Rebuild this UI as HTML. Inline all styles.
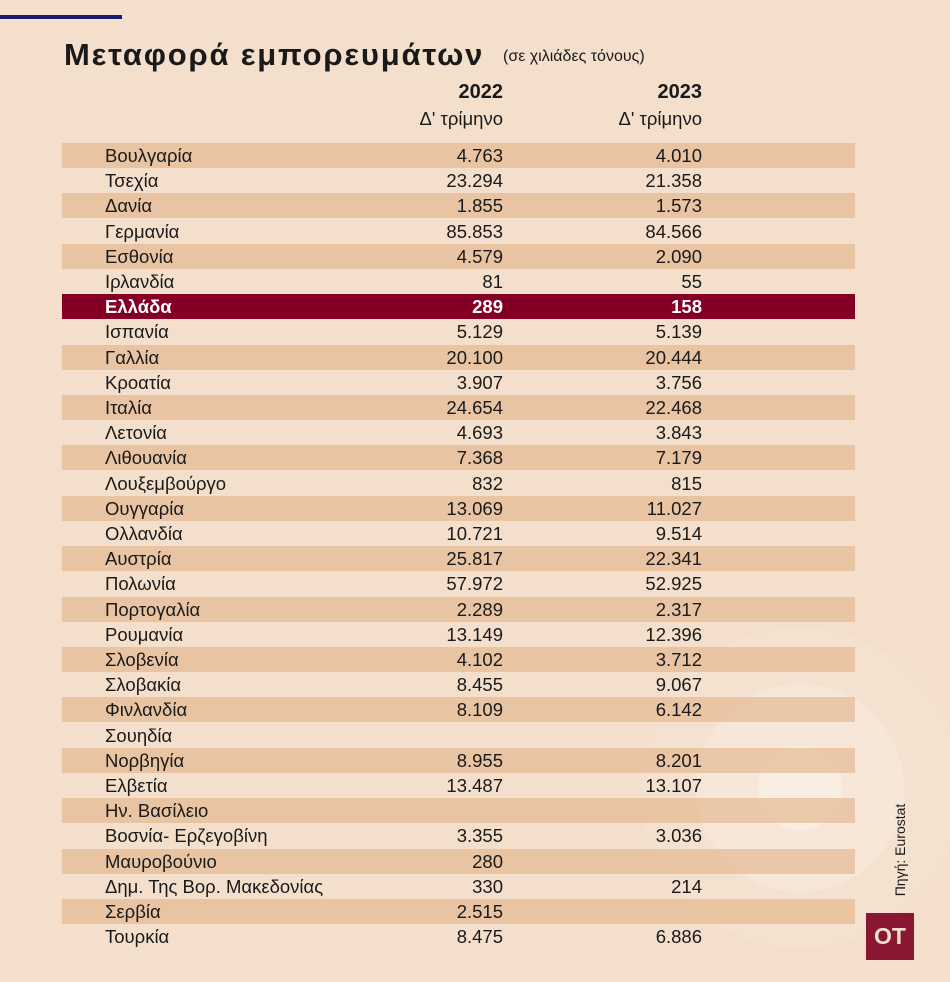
<!DOCTYPE html>
<html><head><meta charset="utf-8"><style>
*{margin:0;padding:0}
body{width:950px;height:982px;background:#f3dfcc;position:relative;overflow:hidden;font-family:"Liberation Sans","DejaVu Sans",sans-serif;color:#1a1a1a}
.c0{position:absolute;left:640px;top:628px;width:320px;height:320px;border-radius:50%;background:rgba(255,255,255,0.08)}
.c1{position:absolute;left:696px;top:684px;width:208px;height:208px;border-radius:50%;background:rgba(255,255,255,0.2)}
.c2{position:absolute;left:758px;top:746px;width:84px;height:84px;border-radius:50%;background:rgba(255,255,255,0.3)}
.row{position:absolute;left:62px;width:793px;height:25px;font-size:18.5px;line-height:25px}
.band{background:rgba(225,178,135,0.6)}
.gr{background:#830024;color:#fff;font-weight:bold}
.n{position:absolute;left:43px}
.a{position:absolute;right:352px}
.b{position:absolute;right:153px}
</style></head><body>
<div class="c0"></div><div class="c1"></div><div class="c2"></div>
<div style="position:absolute;left:0;top:15px;width:122px;height:4px;background:#1b1a6b"></div>
<div style="position:absolute;left:64px;top:37px;font-size:31px;font-weight:bold;letter-spacing:1.8px">Μεταφορά εμπορευμάτων</div>
<div style="position:absolute;left:503px;top:48px;font-size:16px">(σε χιλιάδες τόνους)</div>
<div style="position:absolute;right:447px;top:81px;font-size:20px;font-weight:bold">2022</div>
<div style="position:absolute;right:447px;top:108px;font-size:18.5px">Δ' τρίμηνο</div>
<div style="position:absolute;right:248px;top:81px;font-size:20px;font-weight:bold">2023</div>
<div style="position:absolute;right:248px;top:108px;font-size:18.5px">Δ' τρίμηνο</div>
<div id="t"></div>
<div style="position:absolute;left:900px;top:850px;transform:translate(-50%,-50%) rotate(-90deg);font-size:14px;white-space:nowrap">Πηγή: Eurostat</div>
<div style="position:absolute;left:866px;top:913px;width:48px;height:47px;background:#8a1632;color:#f3dfcc;font-weight:bold;font-size:23px;line-height:47px;text-align:center">OT</div>
<script>
var d=[["Βουλγαρία","4.763","4.010"],["Τσεχία","23.294","21.358"],["Δανία","1.855","1.573"],["Γερμανία","85.853","84.566"],["Εσθονία","4.579","2.090"],["Ιρλανδία","81","55"],["Ελλάδα","289","158"],["Ισπανία","5.129","5.139"],["Γαλλία","20.100","20.444"],["Κροατία","3.907","3.756"],["Ιταλία","24.654","22.468"],["Λετονία","4.693","3.843"],["Λιθουανία","7.368","7.179"],["Λουξεμβούργο","832","815"],["Ουγγαρία","13.069","11.027"],["Ολλανδία","10.721","9.514"],["Αυστρία","25.817","22.341"],["Πολωνία","57.972","52.925"],["Πορτογαλία","2.289","2.317"],["Ρουμανία","13.149","12.396"],["Σλοβενία","4.102","3.712"],["Σλοβακία","8.455","9.067"],["Φινλανδία","8.109","6.142"],["Σουηδία","",""],["Νορβηγία","8.955","8.201"],["Ελβετία","13.487","13.107"],["Ην. Βασίλειο","",""],["Βοσνία- Ερζεγοβίνη","3.355","3.036"],["Μαυροβούνιο","280",""],["Δημ. Της Βορ. Μακεδονίας","330","214"],["Σερβία","2.515",""],["Τουρκία","8.475","6.886"]];
var h="";d.forEach(function(r,i){var c=i==6?"row gr":(i%2==0?"row band":"row");h+='<div class="'+c+'" style="top:'+(143+i*25.2).toFixed(1)+'px"><span class="n">'+r[0]+'</span><span class="a">'+r[1]+'</span><span class="b">'+r[2]+'</span></div>';});
document.getElementById("t").innerHTML=h;
</script>
</body></html>
